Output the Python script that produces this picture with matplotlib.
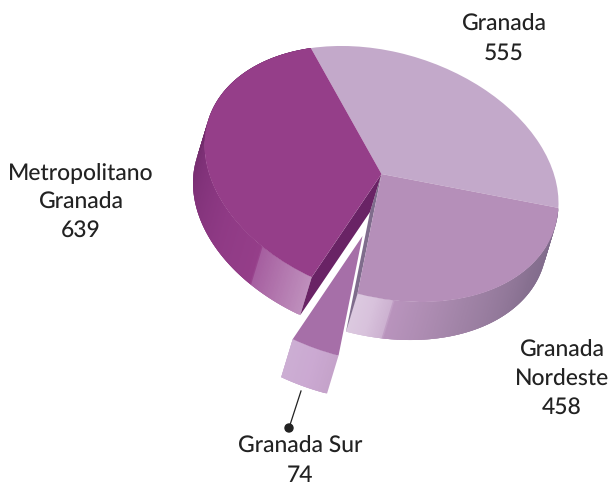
import numpy as np
import matplotlib
matplotlib.use("Agg")
import matplotlib.pyplot as plt
from matplotlib.patches import Wedge, Circle
from matplotlib.collections import PolyCollection
from matplotlib.colors import to_rgb
from matplotlib.transforms import Affine2D

names = ["Granada", "Granada\nNordeste", "Granada Sur", "Metropolitano\nGranada"]
values = [555, 458, 74, 639]
top_colors = ["#c3a9ca", "#b58fb9", "#a66fa8", "#953e89"]
label_xy = [(504, 39), (562, 379), (300, 461), (81, 202)]

plt.rcParams["font.family"] = ["Lato", "DejaVu Sans"]
plt.rcParams["text.hinting"] = "none"
fig = plt.figure(figsize=(6.1, 4.85), dpi=100)
ax = fig.add_axes([0, 0, 1, 1])
ax.set_xlim(0, 610)
ax.set_ylim(485, 0)
ax.axis("off")

# projection of the unit circle into the picture
center = np.array([381.5, 175.0])
M = np.array([[177.0, 0.0], [29.0, 124.7]])
depth = np.array([-11.5, 38.0])
start = 246.5
sweeps = 360.0 * np.array(values) / sum(values)
theta1 = start + np.concatenate([[0], np.cumsum(sweeps)[:-1]])
theta2 = theta1 + sweeps
explode = [np.zeros(2), np.zeros(2), np.array([-19.0, 62.0]), np.zeros(2)]


def rim(t):
    r = np.radians(t)
    return center + (M @ np.vstack([np.cos(r), np.sin(r)])).T


def grad(stops, t):
    a = [s[0] for s in stops]
    c = np.array([to_rgb(s[1]) for s in stops])
    return np.column_stack([np.interp(t, a, c[:, i]) for i in range(3)])


def side(t_a, t_b, stops, off, z):
    ts = np.arange(t_a, t_b, 0.5)
    ts = np.append(ts, t_b)
    p = rim(ts) + off
    n = len(ts)
    quads = []
    for i in range(n - 1):
        j = min(i + 3, n - 1)
        quads.append([p[i], p[j], p[j] + depth, p[i] + depth])
    cols = grad(stops, (0.5 * (ts[:-1] + ts[1:])) % 360)
    ax.add_collection(PolyCollection(quads, facecolors=cols, edgecolors="none", linewidths=0, zorder=z))


def wall(p1, z, color):
    c = center
    ax.fill([c[0], p1[0], p1[0] + depth[0], c[0] + depth[0]],
            [c[1], p1[1], p1[1] + depth[1], c[1] + depth[1]], color=color, lw=0, zorder=z)


# side gradients, by angle along the rim
side(theta1[1], theta2[1],
     [(2, "#7b6788"), (30, "#877090"), (60, "#a083a6"), (85.8, "#b994bd"), (86.4, "#cdb2d1"),
      (92, "#d8c2dc"), (98, "#dccae0")], explode[1], 1)
side(theta1[3], theta2[3],
     [(113, "#bf90bd"), (132, "#a65fa0"), (132.6, "#953e89"), (150, "#8f3a85"), (175, "#7f3178"), (192, "#732b6c"), (247, "#732b6c")],
     explode[3], 1)
side(theta1[2], theta2[2],
     [(97, "#c4a2c9"), (105, "#cba9d2"), (114, "#ccafd3")], explode[2], 5)

# cut walls of the two pieces around the gap
wall(rim(np.array([theta2[1]]))[0], 2, "#7f6c8c")
wall(rim(np.array([theta1[3]]))[0], 2, "#692365")

# top faces
tr = Affine2D(matrix=np.array([[M[0, 0], M[0, 1], center[0]],
                               [M[1, 0], M[1, 1], center[1]],
                               [0, 0, 1]]))
for i in range(4):
    z = 6 if i == 2 else 3
    off = explode[i]
    ax.add_patch(Wedge((0, 0), 1, theta1[i], theta2[i], facecolor=top_colors[i], edgecolor="none",
                       transform=tr + Affine2D().translate(*off) + ax.transData, zorder=z))

# leader of the small slice
ax.plot([301, 289], [392, 429], color="#222222", lw=0.9, zorder=7)
ax.add_patch(Circle((289, 429), 4, color="#222222", zorder=7))

for n, v, (x, y) in zip(names, values, label_xy):
    ax.text(x, y, f"{n}\n{v}", ha="center", va="center", fontsize=16.5, color="#222222",
            linespacing=1.45, weight="medium", zorder=8)

fig.savefig("out.png", dpi=100)
